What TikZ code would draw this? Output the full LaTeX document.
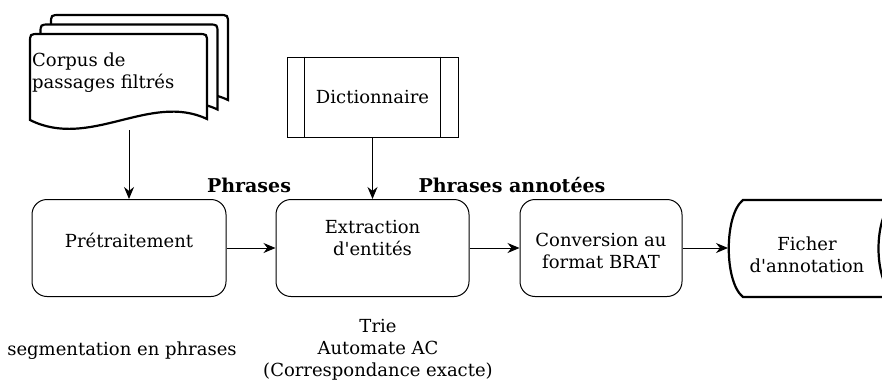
\documentclass[tikz,border=0pt]{standalone}
\usepackage{fontspec}
\setmainfont{DejaVu Serif}
\usetikzlibrary{arrows.meta,positioning}
\tikzstyle{txt} = [font=\fontsize{18}{22}\selectfont, align=center, inner sep=0pt]
\tikzstyle{lbl} = [font=\fontsize{19}{22}\selectfont\bfseries, inner sep=0pt]
\tikzstyle{arrow} = [line width=1pt,-{Stealth[length=12pt,width=10pt]}]
\tikzstyle{process} = [draw, line width=1pt, rounded corners=15pt, minimum height=97pt]
\tikzstyle{doc} = [draw=black, fill=white, line width=2.2pt]

\begin{document}
\begin{tikzpicture}[x=1pt,y=-1pt]
\useasboundingbox (0,0) rectangle (882,380);
\clip (0,0) rectangle (882,380);

% pile de documents
\foreach \s in {2,1,0}{
  \filldraw[doc, shift={(10.5*\s,-9.5*\s)}] (30,120) -- (30,43) .. controls (30,34) .. (39,34) -- (198,34) .. controls (207,34) .. (207,43) -- (207,119) .. controls (150,92) and (90,150) .. (30,120) -- cycle;
}
\node[txt, anchor=west, align=left] (corpus) at (32,73) {Corpus de\\passages filtrés};
\coordinate (corpusbot) at (129,130);

% dictionnaire
\node[draw, line width=1pt, minimum width=171pt, minimum height=80pt] (dict) at (372.5,97) {};
\draw[line width=1pt] ([xshift=18pt]dict.north west) -- ([xshift=18pt]dict.south west);
\draw[line width=1pt] ([xshift=-18pt]dict.north east) -- ([xshift=-18pt]dict.south east);
\node[txt] (dicttxt) at (372.5,97) {Dictionnaire};

% etapes
\node[process, minimum width=194pt] (pre) at (129,248) {};
\node[txt] (pretxt) at (129,240) {Prétraitement};
\node[process, minimum width=193pt] (extr) at (372.5,248) {};
\node[txt] (extrtxt) at (372.5,238) {Extraction\\d\textquotesingle entités};
\node[process, minimum width=162pt] (conv) at (601,248) {};
\node[txt] (convtxt) at (601,251) {Conversion au\\format BRAT};

% fichier de sortie
\filldraw[doc] (890,200) -- (743,200) .. controls (724,215) and (724,282) .. (743,297) -- (890,297);
\draw[line width=2.2pt] (895,200) .. controls (873,215) and (873,282) .. (895,297);
\coordinate (fich) at (728,248);
\node[txt] (fichtxt) at (807,255) {Ficher\\d\textquotesingle annotation};

% fleches
\draw[arrow] (corpusbot) -- (pre.north);
\draw[arrow] (dict.south) -- (extr.north);
\draw[arrow] (pre.east) -- (extr.west);
\draw[arrow] (extr.east) -- (conv.west);
\draw[arrow] (conv.east) -- (fich);

\node[lbl] (phr) at (249,185) {Phrases};
\node[lbl] (phrann) at (512,185) {Phrases annotées};

\node[txt] (seg) at (122,351) {segmentation en phrases};
\node[txt] (algo) at (378,350) {Trie\\Automate AC\\(Correspondance exacte)};

\end{tikzpicture}
\end{document}
